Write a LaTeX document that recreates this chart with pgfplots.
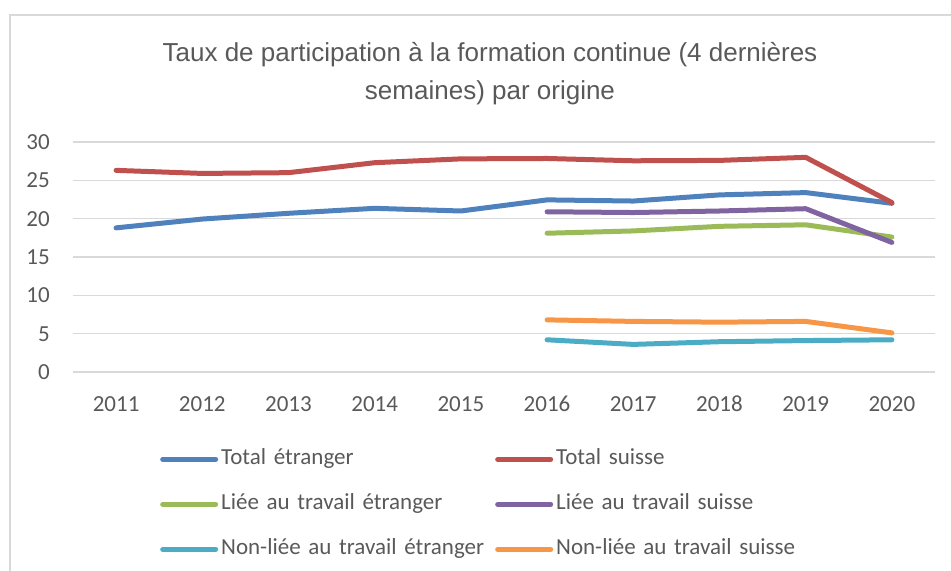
\documentclass[border=0pt]{standalone}
\usepackage{pgfplots}
\pgfplotsset{compat=1.18}
\usepackage{fontspec}
\setmainfont{Carlito}
\newfontfamily\titlefont{Liberation Sans}
\definecolor{cBlue}{HTML}{4F81BD}
\definecolor{cRed}{HTML}{C0504D}
\definecolor{cGreen}{HTML}{9BBB59}
\definecolor{cPurple}{HTML}{8064A2}
\definecolor{cCyan}{HTML}{4BACC6}
\definecolor{cOrange}{HTML}{F79646}
\definecolor{labelgray}{HTML}{595959}
\definecolor{gridgray}{HTML}{D9D9D9}
\begin{document}
\begin{tikzpicture}
\useasboundingbox (0bp,0bp) rectangle (951bp,571bp);
\draw[gridgray, line width=1.5bp] (10bp,0bp) -- (10bp,556bp) -- (951bp,556bp);
\node[font=\titlefont\fontsize{26bp}{38bp}\selectfont, text=labelgray, align=center] at (490bp,497bp)
  {Taux de participation à la formation continue (4 dernières\\semaines) par origine};
\begin{axis}[
  at={(73bp,199bp)}, anchor=south west,
  width=862bp, height=230bp, scale only axis,
  xmin=2010.5, xmax=2020.5, ymin=0, ymax=30,
  xtick={2011,...,2020}, ytick={0,5,...,30},
  ymajorgrids, grid style={color=gridgray, line width=1.5bp},
  axis line style={draw=none}, major tick length=0pt,
  /pgf/number format/assume math mode=true,
  /pgf/number format/1000 sep={},
  tick label style={font=\fontsize{23bp}{27bp}\selectfont, text=labelgray, inner sep=0pt},
  yticklabel style={anchor=base east, xshift=-23bp, yshift=-7.5bp},
  xticklabel style={anchor=base, yshift=-39bp},
  every axis plot/.append style={line width=5bp, line cap=round, line join=round},
  legend columns=2,
  legend cell align=left,
  legend image code/.code={\draw[#1, line width=5bp, line cap=round] (0bp,0bp) -- (53bp,0bp);},
  legend style={draw=none, fill=none, at={(0.1009,-0.333)}, anchor=north west, inner sep=0pt,
    font=\fontsize{23bp}{27bp}\selectfont, text=labelgray, row sep=24bp, column sep=3bp,
    nodes={inner sep=0pt, text height=16bp, text depth=5bp},
    /tikz/every even column/.append style={column sep=4bp, text width=270bp, align=left}},
]
\addplot[cBlue] coordinates {(2011,18.8) (2012,19.95) (2013,20.7) (2014,21.35) (2015,21.0) (2016,22.45) (2017,22.3) (2018,23.1) (2019,23.4) (2020,22.0)};
\addlegendentry{Total étranger}
\addplot[cRed] coordinates {(2011,26.3) (2012,25.9) (2013,26.0) (2014,27.3) (2015,27.8) (2016,27.85) (2017,27.55) (2018,27.6) (2019,28.0) (2020,22.1)};
\addlegendentry{Total suisse}
\addplot[cGreen] coordinates {(2016,18.1) (2017,18.4) (2018,19.0) (2019,19.2) (2020,17.6)};
\addlegendentry{Liée au travail étranger}
\addplot[cPurple] coordinates {(2016,20.9) (2017,20.8) (2018,21.0) (2019,21.3) (2020,16.9)};
\addlegendentry{Liée au travail suisse}
\addplot[cCyan] coordinates {(2016,4.2) (2017,3.6) (2018,3.95) (2019,4.1) (2020,4.2)};
\addlegendentry{Non-liée au travail étranger}
\addplot[cOrange] coordinates {(2016,6.8) (2017,6.6) (2018,6.5) (2019,6.6) (2020,5.1)};
\addlegendentry{Non-liée au travail suisse}
\end{axis}
\end{tikzpicture}
\end{document}
